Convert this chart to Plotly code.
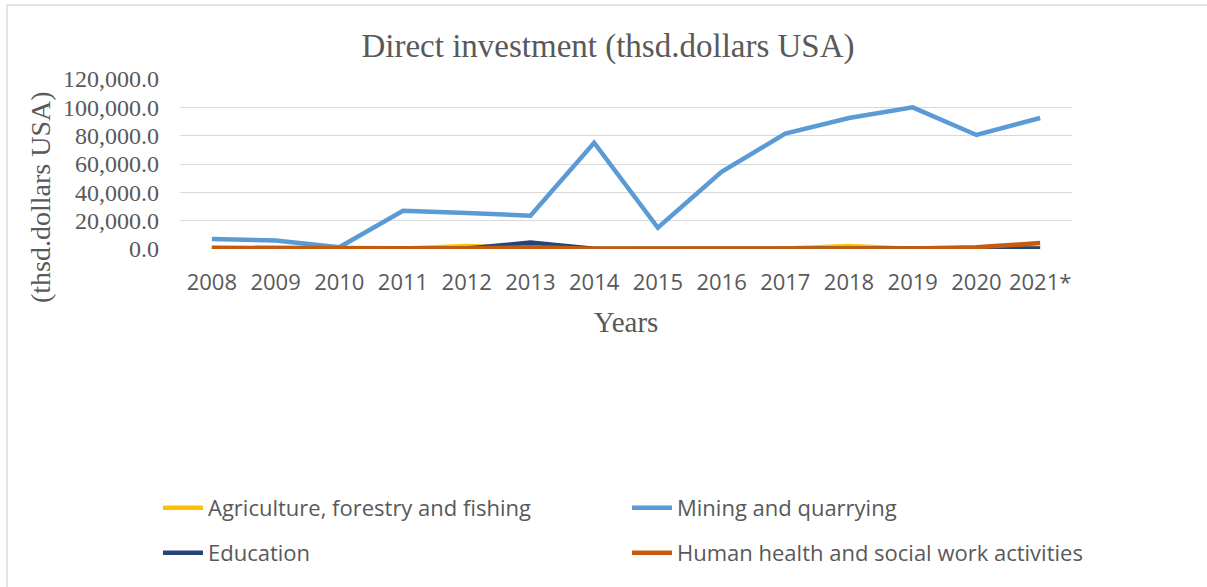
import plotly.graph_objects as go

years = ["2008", "2009", "2010", "2011", "2012", "2013", "2014",
         "2015", "2016", "2017", "2018", "2019", "2020", "2021*"]

agriculture = [200, 150, 100, 300, 2200, 600, 100, 100, 200, 400, 2200, 200, 300, 500]
mining = [7000, 6000, 1200, 27000, 25500, 23500, 75000, 15000, 54500, 81500, 92500, 100000, 80500, 92500]
education = [100, 100, 50, 100, 300, 4500, 200, 100, 100, 100, 100, 100, 200, 300]
health = [900, 700, 300, 200, 300, 1200, 200, 100, 100, 200, 300, 300, 1200, 4200]

series = [
    ("Agriculture, forestry and fishing", agriculture, "#FFC000", "legend"),
    ("Mining and quarrying", mining, "#5B9BD5", "legend"),
    ("Education", education, "#264478", "legend2"),
    ("Human health and social work activities", health, "#C55A11", "legend2"),
]

# plot-area geometry in pixels
W, H = 1207, 587
L, R, T, B = 180, 135, 79, 338
PW, PH = W - L - R, H - T - B


def px_x(x):
    return (x - L) / PW


def px_y(y):
    return (H - B - y) / PH


fig = go.Figure()
for name, vals, color, leg in series:
    fig.add_trace(go.Scatter(
        x=years, y=vals, name=name, mode="lines",
        line=dict(color=color, width=4.5),
        legend=leg,
    ))

grey = "#595959"
legend_common = dict(
    orientation="h", xanchor="left", yanchor="middle",
    font=dict(family="Open Sans", size=22, color=grey),
    entrywidth=414, bgcolor="rgba(0,0,0,0)", itemwidth=40,
)

fig.update_layout(
    width=W, height=H,
    margin=dict(l=L, r=R, t=T, b=B),
    paper_bgcolor="white", plot_bgcolor="white",
    title=dict(
        text="Direct investment (thsd.dollars USA)",
        font=dict(family="Liberation Serif", size=33, color=grey),
        x=608 / W, xref="container", xanchor="center",
        y=1 - 45 / H, yref="container", yanchor="middle",
    ),
    xaxis=dict(
        type="category", range=[-0.5, len(years) - 0.5],
        showgrid=False, showline=False, ticks="",
        tickfont=dict(family="Open Sans", size=22, color=grey),
        ticklabelstandoff=18,
        title=dict(text="Years", standoff=16,
                   font=dict(family="Liberation Serif", size=29, color=grey)),
    ),
    yaxis=dict(
        range=[0, 120000], dtick=20000, tickformat=",.1f",
        showgrid=True, gridcolor="#D9D9D9", gridwidth=1,
        zeroline=False, showline=False, ticks="",
        tickfont=dict(family="Liberation Serif", size=24, color=grey),
        ticklabelstandoff=20,
    ),
    legend=dict(x=px_x(158), y=px_y(508), **legend_common),
    legend2=dict(x=px_x(158), y=px_y(553), **legend_common),
    annotations=[dict(
        text="(thsd.dollars USA)", textangle=-90,
        xref="paper", yref="paper", x=px_x(40), y=px_y(197),
        xanchor="center", yanchor="middle", showarrow=False,
        font=dict(family="Liberation Serif", size=28, color=grey),
    )],
    shapes=[
        dict(type="line", xref="paper", yref="paper",
             x0=px_x(7), x1=px_x(7), y0=px_y(5), y1=px_y(H),
             line=dict(color="#D9D9D9", width=1.5)),
        dict(type="line", xref="paper", yref="paper",
             x0=px_x(7), x1=px_x(W), y0=px_y(5), y1=px_y(5),
             line=dict(color="#D9D9D9", width=1.5)),
    ],
    showlegend=True,
)

fig.write_html("out.html")
